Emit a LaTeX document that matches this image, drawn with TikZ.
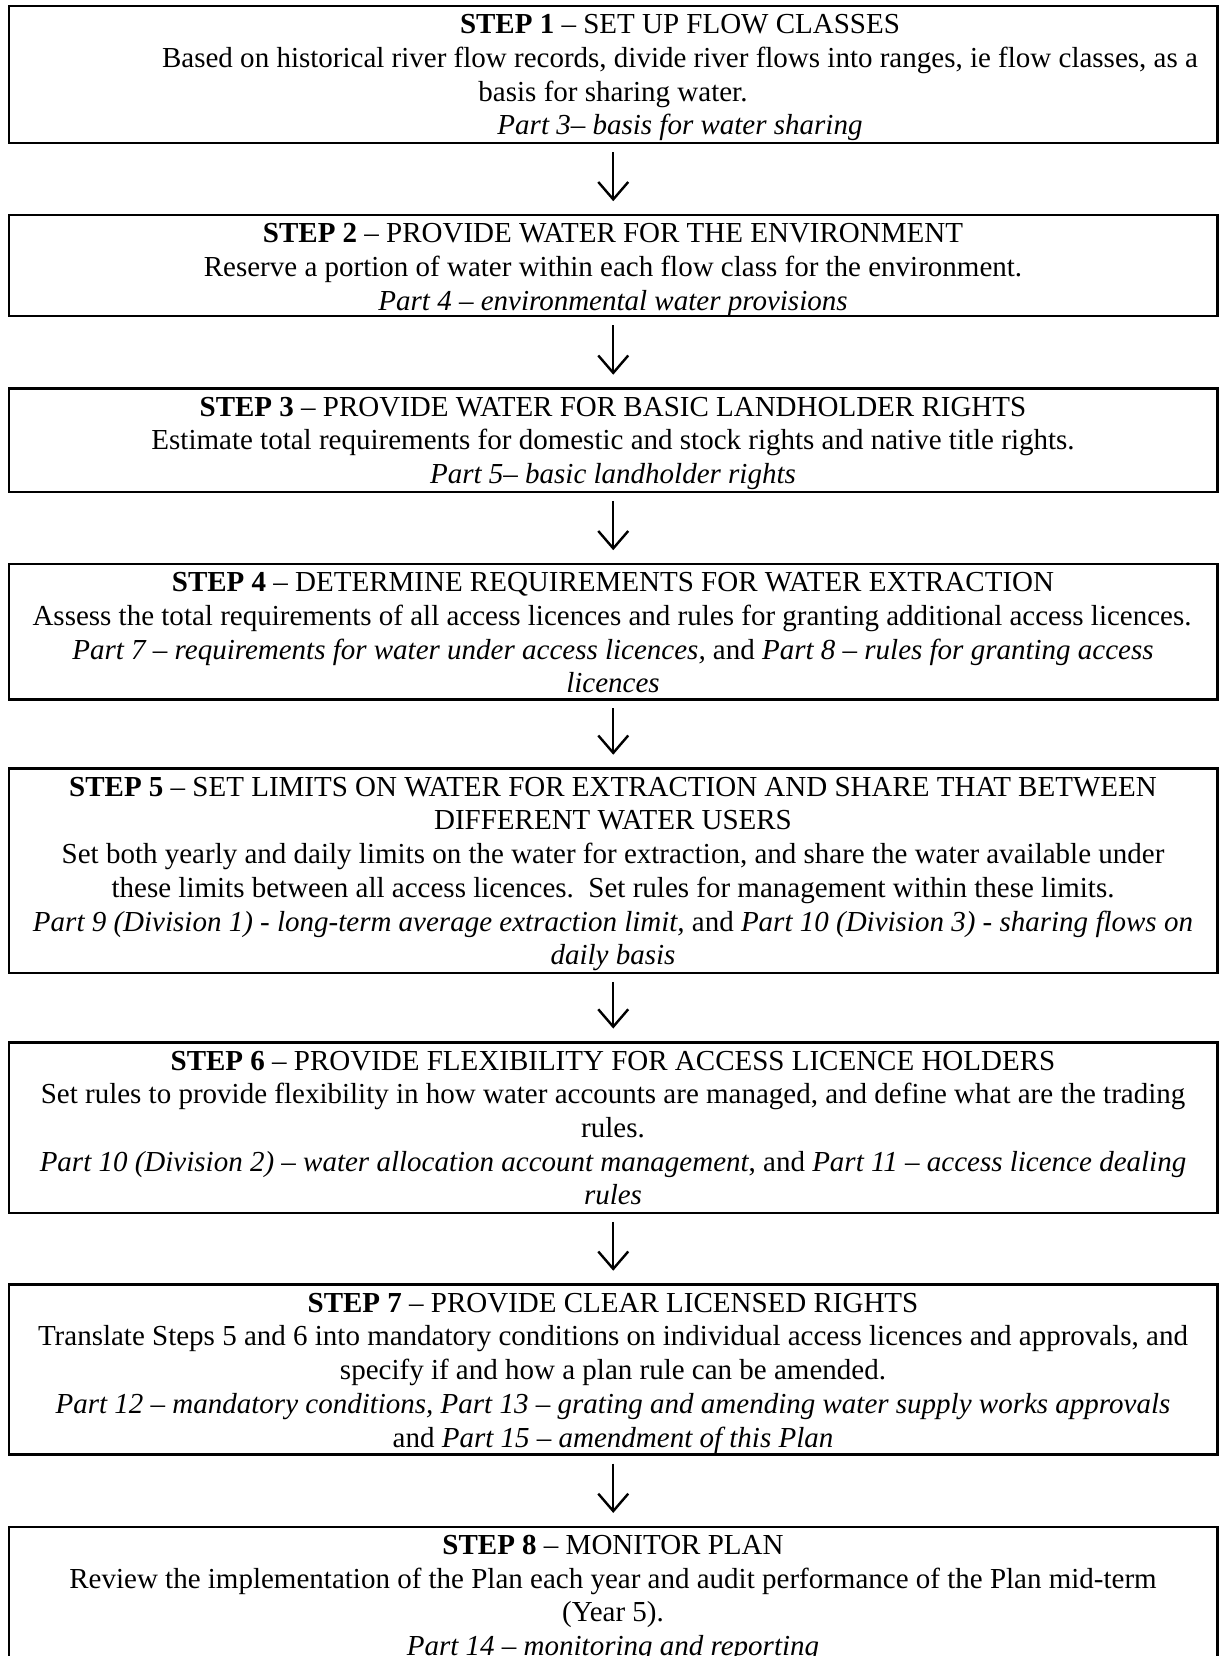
\documentclass[tikz,border=0pt]{standalone}
\usepackage{fontspec}
\setmainfont{Liberation Serif}
\usetikzlibrary{arrows.meta,fit}
\begin{document}
\begin{tikzpicture}[x=0.41374pt,y=-0.41374pt,
  stepbox/.style={draw, line width=1pt, inner sep=0pt},
  ln/.style={anchor=base, inner sep=0pt, font=\fontsize{12pt}{13.8pt}\selectfont},
  flow/.style={line width=1pt, -{Straight Barb[length=7.2pt,width=12.4pt]}, shorten <=3.3pt, shorten >=5.2pt}]
\useasboundingbox (0,0) rectangle (1219,1656);

% boxes
\node[stepbox, fit={(9,6) (1217.5,143)}] (b1) {};
\node[stepbox, fit={(9,215) (1217.5,316)}] (b2) {};
\node[stepbox, fit={(9,388.5) (1217.5,491.7)}] (b3) {};
\node[stepbox, fit={(9,564) (1217.5,699.3)}] (b4) {};
\node[stepbox, fit={(9,768.5) (1217.5,972.7)}] (b5) {};
\node[stepbox, fit={(9,1042.3) (1217.5,1212.7)}] (b6) {};
\node[stepbox, fit={(9,1284.5) (1217.5,1454.5)}] (b7) {};
\node[stepbox, fit={(9,1526.7) (1217.5,1700)}] (b8) {};

% step 1
\node[ln] (s1t) at (680,33.7) {\textbf{STEP 1} – SET UP FLOW CLASSES};
\node[ln] (s1a) at (680,67.4) {Based on historical river flow records, divide river flows into ranges, ie flow classes, as a};
\node[ln] (s1b) at (613,101.1) {basis for sharing water.};
\node[ln] (s1c) at (680,134.8) {\textit{Part 3– basis for water sharing}};

% step 2
\node[ln] (s2t) at (613,242.7) {\textbf{STEP 2} – PROVIDE WATER FOR THE ENVIRONMENT};
\node[ln] (s2a) at (613,276.4) {Reserve a portion of water within each flow class for the environment.};
\node[ln] (s2b) at (613,310.1) {\textit{Part 4 – environmental water provisions}};

% step 3
\node[ln] (s3t) at (613,416.2) {\textbf{STEP 3} – PROVIDE WATER FOR BASIC LANDHOLDER RIGHTS};
\node[ln] (s3a) at (613,449.9) {Estimate total requirements for domestic and stock rights and native title rights.};
\node[ln] (s3b) at (613,483.6) {\textit{Part 5– basic landholder rights}};

% step 4
\node[ln] (s4t) at (613,591.7) {\textbf{STEP 4} – DETERMINE REQUIREMENTS FOR WATER EXTRACTION};
\node[ln] (s4a) at (612,625.4) {Assess the total requirements of all access licences and rules for granting additional access licences.};
\node[ln] (s4b) at (613,659.1) {\textit{Part 7 – requirements for water under access licences,} and \textit{Part 8 – rules for granting access}};
\node[ln] (s4c) at (613,692.8) {\textit{licences}};

% step 5
\node[ln] (s5t) at (613,796.2) {\textbf{STEP 5} – SET LIMITS ON WATER FOR EXTRACTION AND SHARE THAT BETWEEN};
\node[ln] (s5a) at (613,829.9) {DIFFERENT WATER USERS};
\node[ln] (s5b) at (613,863.6) {Set both yearly and daily limits on the water for extraction, and share the water available under};
\node[ln] (s5c) at (613,897.3) {these limits between all access licences.\ \ Set rules for management within these limits.};
\node[ln] (s5d) at (613,931.0) {\textit{Part 9 (Division 1) - long-term average extraction limit,} and \textit{Part 10 (Division 3) - sharing flows on}};
\node[ln] (s5e) at (613,964.7) {\textit{daily basis}};

% step 6
\node[ln] (s6t) at (613,1070.0) {\textbf{STEP 6} – PROVIDE FLEXIBILITY FOR ACCESS LICENCE HOLDERS};
\node[ln] (s6a) at (613,1103.7) {Set rules to provide flexibility in how water accounts are managed, and define what are the trading};
\node[ln] (s6b) at (613,1137.4) {rules.};
\node[ln] (s6c) at (613,1171.1) {\textit{Part 10 (Division 2) – water allocation account management}, and \textit{Part 11 – access licence dealing}};
\node[ln] (s6d) at (613,1204.8) {\textit{rules}};

% step 7
\node[ln] (s7t) at (613,1312.2) {\textbf{STEP 7} – PROVIDE CLEAR LICENSED RIGHTS};
\node[ln] (s7a) at (613,1345.9) {Translate Steps 5 and 6 into mandatory conditions on individual access licences and approvals, and};
\node[ln] (s7b) at (613,1379.6) {specify if and how a plan rule can be amended.};
\node[ln] (s7c) at (613,1413.3) {\textit{Part 12 – mandatory conditions, Part 13 – grating and amending water supply works approvals}};
\node[ln] (s7d) at (613,1447.0) {and \textit{Part 15 – amendment of this Plan}};

% step 8
\node[ln] (s8t) at (613,1554.4) {\textbf{STEP 8} – MONITOR PLAN};
\node[ln] (s8a) at (613,1588.1) {Review the implementation of the Plan each year and audit performance of the Plan mid-term};
\node[ln] (s8b) at (613,1621.8) {(Year 5).};
\node[ln] (s8c) at (613,1655.5) {\textit{Part 14 – monitoring and reporting}};

% arrows
\draw[flow] (b1.south) -- (b2.north);
\draw[flow] (b2.south) -- (b3.north);
\draw[flow] (b3.south) -- (b4.north);
\draw[flow] (b4.south) -- (b5.north);
\draw[flow] (b5.south) -- (b6.north);
\draw[flow] (b6.south) -- (b7.north);
\draw[flow] (b7.south) -- (b8.north);
\end{tikzpicture}
\end{document}
